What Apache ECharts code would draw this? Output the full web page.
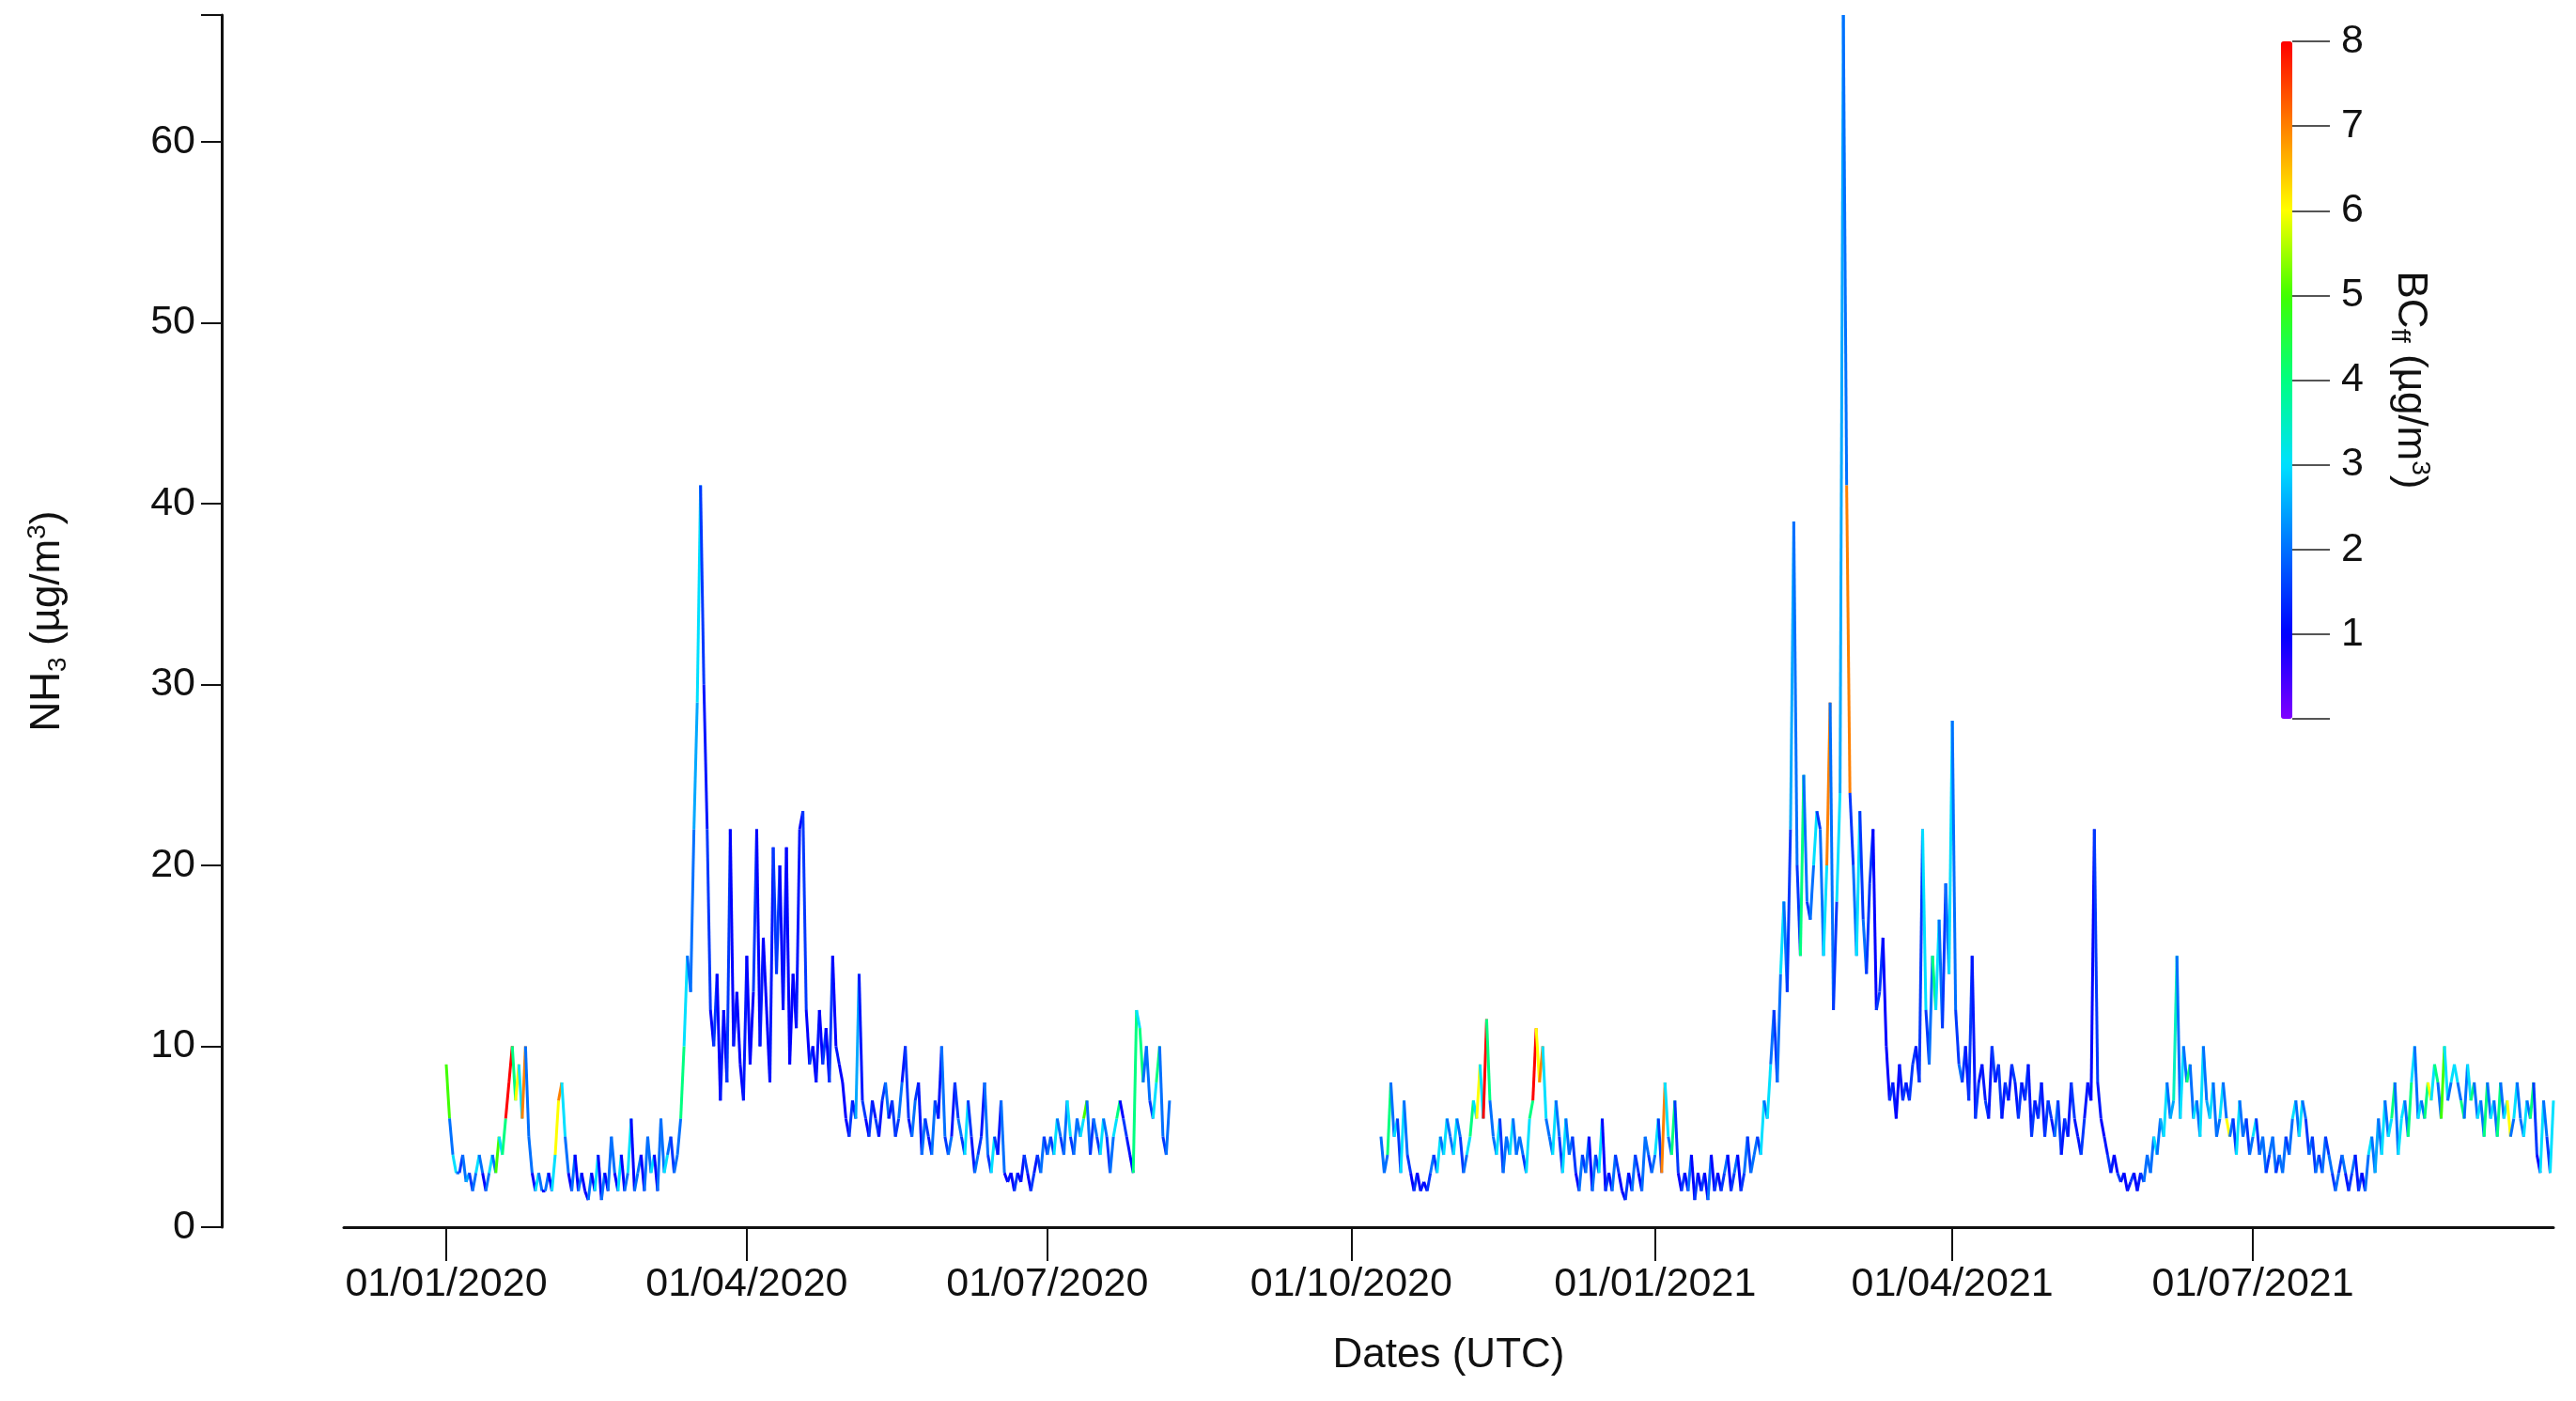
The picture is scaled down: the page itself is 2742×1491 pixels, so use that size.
<!DOCTYPE html>
<html>
<head>
<meta charset="utf-8">
<title>NH3 vs BCff</title>
<script src="https://cdn.jsdelivr.net/npm/echarts@6/dist/echarts.min.js"></script>
<style>
  * { margin: 0; padding: 0; }
  html, body { background: #fff; }
  #main { width: 2742px; height: 1491px; }
</style>
</head>
<body>
<div id="main"></div>
<script>
// segment 1: daily values from 01/01/2020
let start1 = '2020-01-01';
let nh3_1 = [
  9,6,4,3,3,4,2.5,3,2,3, 4,3,2,3,4,3,5,4,6,8, 10,7,9,6,10,5,3,2,3,2,2,
  3,2,4,7,8,5,3,2,4,2, 3,2,1.5,3,2,4,1.5,3,2,5, 3,2,4,2,3,6,2,3,4,
  2,5,3,4,2,6,3,4,5,3, 4,6,10,15,13,22,29,41,30,22, 12,10,14,7,12,8,22,10,13,9,7,
  15,9,13,22,10,16,12,8,21,14, 20,12,21,9,14,11,22,23,12,9, 10,8,12,9,11,8,15,10,9,8,
  6,5,7,6,14,7,6,5,7,6, 5,7,8,6,7,5,6,8,10,6, 5,7,8,4,6,5,4,7,6,10,5,
  4,5,8,6,5,4,7,5,3,4, 5,8,4,3,5,4,7,3,2.5,3, 2,3,2.5,4,3,2,3,4,3,5,
  4,5,4,6,5,4,7,5,4,6, 5,6,7,4,6,5,4,6,5,3, 5,6,7,6,5,4,3,12,11,8,10,
  7,6,8,10,5,4,7
];
let bc_1 = [
  7,5,2,3,2,1.5,2,2.5,1.5,2, 3,2,1,2,3,2,5,3,4,8, 8,4,6,3,7,2,2,1,3,2,1,
  2,1,3,6,7,3,2,1,2,1, 2,1,1,2,1,3,1,2,1,2, 2,1,3,1,2,3,1,2,2,
  1,2,2,3,1,2,2,3,2,1.5, 2,2,4,3,2,2,2.5,3,1.5,1.2, 1.5,1,1.5,1,1.2,1,1.5,1,1.2,1,1,
  1.2,1,1,1.5,1,1.2,1,1,1.2,1.5, 1.5,1,1.2,1,1,1,1.2,1,1.5,1, 1.5,1,1.2,1,1.5,1,1.5,1,1.2,1,
  1,1,1.5,1.2,2.5,1.2,1.5,1,1.5,1.2, 1.5,1.2,1.5,2,1.2,1.5,1.5,2,1.2,1.5, 1.2,2,1.5,1.2,2,1.5,1.2,2,1.5,1.2,2,
  1.5,2,1.2,1.5,2,1.5,3,1.5,1.2,2, 1.5,1.2,2,1.5,3,1.5,1.2,2,1,1.2, 1,1.5,1,1.2,1.5,1,1.5,1.2,1.5,2,
  1.5,2,1.5,3,2,1.5,2,3,1.5,2, 2,3,5,2,1.5,2,1.5,3,2,1.5, 2,3,4,1,1.5,1.2,1,4,3,4,2,
  2,1.5,3,4,2,1.5,2
];
// segment 2: daily values from 10/10/2020
let start2 = '2020-10-10';
let nh3_2 = [
  5,3,4,8,5,6,3,7,4,3,2, 3,2,2.5,2,3,4,3,5,4,6,5,
  4,6,5,3,4,5,7,6,9,6, 11.5,7,5,4,6,3,5,4,6,4, 5,4,3,6,7,11,8,10,6,5,
  4,7,5,3,6,4,5,3,2,4, 3,5,2,4,3,6,2,3,2,4, 3,2,1.5,3,2,4,3,2,5,4,3,
  4,6,3,8,5,4,7,3,2,3, 2,4,1.5,3,2,3,1.5,4,2,3, 2,3,4,2,3,4,2,3,5,3,4,
  5,4,7,6,9,12,8,14,18,13, 22,39,20,15,25,18,17,20,23,22, 15,20,29,12,18,24,67,41,
  24,20,15,23,17,14,19,22,12,13, 16,10,7,8,6,9,7,8,7,9, 10,8,22,12,9,15,12,17,11,19,14,
  28,12,9,8,10,7,15,6,8,9, 7,6,10,8,9,6,8,7,9,8, 6,8,7,9,5,7,6,8,5,7,
  6,5,7,4,6,5,8,6,5,4, 6,8,7,22,8,6,5,4,3,4, 3,2.5,3,2,2.5,3,2,3,2.5,4,3,
  5,4,6,5,8,6,7,15,6,10, 8,9,6,7,5,10,7,6,8,5, 6,8,6,5,6,4,7,5,6,4,
  5,6,4,5,3,4,5,3,4,3, 5,4,6,7,5,7,6,4,5,3, 4,3,5,4,3,2,3,4,3,2,3,
  4,2,3,2,4,5,3,6,4,7, 5,6,8,4,6,7,5,8,10,6, 7,6,8,7,9,8,6,10,7,8,9,
  8,7,6,9,7,8,6,7,5,8, 6,7,5,8,6,7,5,6,8,6, 5,7,6,8,4,3,7,5,3,7
];
let bc_2 = [
  3,2,2,4,2,3,1.5,3,2,1.5,1, 1.5,1,1.2,1,1.5,2,1.5,3,2,3,2,
  2,3,2,1.5,2,3,4,3,6,3, 8,4,2,2,3,1.5,2,2,3,2, 2,2,1.5,3,4,8,6,7,3,2,
  2,3,2,1.5,3,2,2,1.5,1,2, 1.5,2,1,2,1.5,3,1,1.5,1,2, 1.5,1,1,1.5,1,2,1.5,1,2,2,1.5,
  2,3,1.5,7,3,2,4,1.5,1,1.5, 1,2,1,1.5,1,1.5,1,2,1,1.5, 1,1.5,2,1,1.5,2,1,1.5,2,1.5,2,
  2,1.5,3,2,3,2,1.5,2,3,2, 1.5,2.5,2,1.5,4,2,1.5,2,3,1.5, 2,3,7,2,1.5,3,2.5,2,
  7,1.5,2,3,1.5,2,1.5,1.5,1,1.5, 1.5,1,1,1.5,1.2,1,1.2,1.5,1.2,1.5, 1.5,1.2,1.5,3,1.5,2,4,3,2,1.5,2,
  3,2,1.5,2,1.5,1.2,1.5,1.2,1.5,1.2, 1.2,1.5,1.2,1.5,1.2,1.5,1.2,1.5,1.2,1.5, 1.2,1.5,1.2,1.5,1.2,1.5,1.2,1.5,1.2,1.5,
  1.5,1.2,2,1.5,1.2,1.5,1.2,1.5,1.2,1.2, 1.5,1.2,1.2,1,1.5,1.2,1,1.2,1.5,1.2, 1,1.5,1.2,1,1.2,1.5,1,1.2,1.5,2,2,
  2,3,2,2.5,3,2,2.5,3.5,2,3, 2,4,2,3,2,3,2,2.5,3,2, 2,3,2,6,2,1.5,3,2,2,1.5,
  2,3,1.5,2,2,1.5,2,2,1.5,2, 2,1.5,2,3,2,3,2,1.5,2,1.5, 2,1.5,2,1.5,2,1.5,2,1.5,2,1.2,1.5,
  2,1.2,1.5,1,2,3,2,2.5,2,3, 2,3,4,2,3,3,2,4,3,2, 3,2,4,6,3,4,2,5,3,2,3,
  3,2,4,2,3,4,2,3,2,4, 2,3,2,4,2,3,6,2,3,2, 2,3,2,4,1.5,1,3,2,1.5,3
];
let bcColors = ['#7f00ff','#0000ff','#0070ff','#00e0ff','#00ff80','#40ff00','#ffff00','#ff8000','#ff0000'];

const DAY = 86400000;
function buildSeg(startStr, nh3, bc) {
  let t0 = new Date(startStr + 'T00:00:00Z').getTime();
  let out = [];
  nh3.forEach((v, i) => {
    let t = t0 + i * DAY;
    let pi = i > 0 ? i - 1 : 0;
    out.push([t, v, bc[i], t0 + pi * DAY, nh3[pi]]);
  });
  return out;
}

function renderSeg(params, api) {
  let p1 = api.coord([api.value(3), api.value(4)]);
  let p2 = api.coord([api.value(0), api.value(1)]);
  return {
    type: 'line',
    shape: { x1: p1[0], y1: p1[1], x2: p2[0], y2: p2[1] },
    style: { stroke: api.visual('color'), lineWidth: 3 }
  };
}

let myChart = echarts.init(document.getElementById('main'));
let fontF = 'Arial, "Liberation Sans", sans-serif';
let rich = {
  n: { fontSize: 44, color: '#111' },
  s: { fontSize: 28, color: '#111', verticalAlign: 'bottom', padding: [18, 0, 0, 0] },
  p: { fontSize: 28, color: '#111', verticalAlign: 'top', padding: [0, 0, 22, 0] }
};
let option = {
  backgroundColor: '#fff',
  animation: false,
  textStyle: { fontFamily: fontF },
  grid: [
    { left: 366, right: 24, top: 16, bottom: 185, outerBoundsMode: 'none' },
    { left: 2428, width: 12, top: 44, height: 721, outerBoundsMode: 'none' }
  ],
  xAxis: [{
    type: 'time',
    gridIndex: 0,
    min: Date.UTC(2019, 11, 1),
    max: Date.UTC(2021, 8, 30),
    splitNumber: 7,
    name: 'Dates (UTC)',
    nameLocation: 'middle',
    nameGap: 115,
    nameTextStyle: { fontSize: 44, color: '#111' },
    axisLine: { lineStyle: { color: '#111', width: 3 } },
    axisTick: { length: 36, lineStyle: { color: '#111', width: 2 } },
    axisLabel: {
      fontSize: 43, color: '#111', margin: 40,
      showMinLabel: false, showMaxLabel: false,
      formatter: function (v) {
        let d = new Date(v);
        let m = d.getUTCMonth();
        if (d.getUTCDate() !== 1 || m % 3 !== 0) return '';
        return '01/' + String(m + 1).padStart(2, '0') + '/' + d.getUTCFullYear();
      }
    },
    splitLine: { show: false }
  }, {
    type: 'category', gridIndex: 1, show: false, data: ['']
  }],
  yAxis: [{
    type: 'value',
    gridIndex: 0,
    min: 0, max: 67, interval: 10,
    offset: 130,
    name: '{n|NH}{s|3}{n| (µg/m}{p|3}{n|)}',
    nameLocation: 'middle',
    nameGap: 160,
    nameTextStyle: { rich: rich },
    axisLine: { show: true, lineStyle: { color: '#111', width: 3 } },
    axisTick: { show: true, length: 22, lineStyle: { color: '#111', width: 2 } },
    axisLabel: {
      fontSize: 43, color: '#111', margin: 28,
      formatter: v => (v % 10 === 0 ? String(v) : '')
    },
    splitLine: { show: false }
  }, {
    type: 'value',
    gridIndex: 1,
    position: 'right',
    min: 0, max: 8, interval: 1,
    name: '{n|BC}{s|ff}{n| (µg/m}{p|3}{n|)}',
    nameLocation: 'middle',
    nameRotate: -90,
    nameGap: 100,
    nameTextStyle: { rich: rich },
    axisLine: { show: false },
    axisTick: { show: true, length: 40, lineStyle: { color: '#555', width: 2 } },
    axisLabel: { fontSize: 43, color: '#111', margin: 52, formatter: v => (v === 0 ? '' : String(v)) },
    splitLine: { show: false }
  }],
  visualMap: {
    type: 'continuous',
    seriesIndex: [0, 1],
    dimension: 2,
    min: 0, max: 8,
    left: 2428, top: 44,
    itemWidth: 12, itemHeight: 721,
    padding: 0,
    calculable: false,
    showLabel: false,
    text: null,
    inRange: { color: bcColors }
  },
  series: [{
    type: 'custom',
    xAxisIndex: 0, yAxisIndex: 0,
    renderItem: renderSeg,
    encode: { x: [0, 3], y: [1, 4] },
    data: buildSeg(start1, nh3_1, bc_1)
  }, {
    type: 'custom',
    xAxisIndex: 0, yAxisIndex: 0,
    renderItem: renderSeg,
    encode: { x: [0, 3], y: [1, 4] },
    data: buildSeg(start2, nh3_2, bc_2)
  }]
};
myChart.setOption(option);
</script>
</body>
</html>
